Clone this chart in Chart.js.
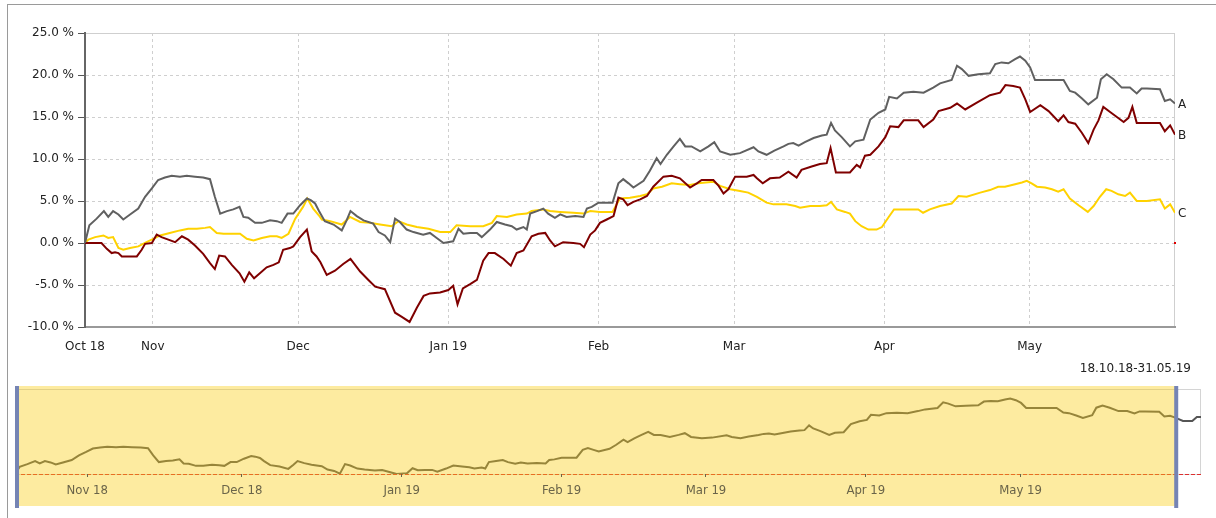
<!DOCTYPE html>
<html>
<head>
<meta charset="utf-8">
<title>Performance</title>
<script src="https://cdn.jsdelivr.net/npm/chart.js@4/dist/chart.umd.min.js"></script>
<style>
  html, body { margin: 0; padding: 0; background: #fff; overflow: hidden; }
  body { width: 1216px; height: 518px; position: relative; font-family: "DejaVu Sans", sans-serif; }
  #frame { position: absolute; left: 7px; top: 4px; width: 1300px; height: 600px;
           border-top: 1px solid #9a9a9a; border-left: 1px solid #9a9a9a; }
  #chart { position: absolute; left: 0; top: 0; }
  #nav { position: absolute; left: 0; top: 380px; }
  #range { position: absolute; right: 25px; top: 360px; font-size: 12px; line-height: 16px; color: #222; }
</style>
</head>
<body>
<div id="frame"></div>
<canvas id="chart" width="1216" height="380"></canvas>
<div id="range">18.10.18-31.05.19</div>
<canvas id="nav" width="1216" height="138"></canvas>
<script>
// days counted from 18.10.2018
const monthDays = [0, 14, 44, 75, 106, 134, 165, 195];
const monthLabels = ['Oct 18', 'Nov', 'Dec', 'Jan 19', 'Feb', 'Mar', 'Apr', 'May'];
const navMonthDays = [14, 44, 75, 106, 134, 165, 195];
const navMonthLabels = ['Nov 18', 'Dec 18', 'Jan 19', 'Feb 19', 'Mar 19', 'Apr 19', 'May 19'];

// series A (grey)
const aDays = [0, 0.9, 2.4, 3.9, 4.8, 5.8, 6.9, 7.9, 9.3, 11.0, 12.4, 13.8, 15.1, 16.5, 17.9, 19.6, 21.0, 22.7, 24.4, 25.8,
  26.8, 27.9, 29.3, 30.6, 31.9, 32.7, 33.7, 35.1, 36.5, 38.2, 39.6, 40.6, 41.8, 43.0, 44.4, 45.8, 46.6, 47.5, 48.3, 49.5,
  51.3, 53.0, 54.0, 54.8, 56.1, 57.5, 59.5, 60.6, 61.9, 63.0, 64.0, 65.0, 66.4, 67.8, 69.8, 71.2, 72.6, 74.0, 76.0, 77.1,
  78.1, 79.5, 80.9, 81.9, 83.6, 85.0, 86.7, 88.1, 89.1, 90.5, 91.2, 91.9, 93.3, 94.6, 95.6, 97.0, 98.1, 99.4, 101.2, 102.9,
  103.6, 104.6, 106.0, 108.9, 110.1, 111.1, 112.2, 113.2, 115.3, 116.6, 118.0, 118.8, 120.1, 121.5, 122.8, 123.9, 125.2, 127.0, 128.7, 129.9,
  131.1, 133.2, 135.2, 138.0, 139.0, 140.7, 142.3, 144.2, 145.2, 146.2, 147.3, 148.6, 150.4, 152.1, 153.1, 154.0, 154.8, 156.2, 157.9, 159.0,
  160.7, 162.1, 163.8, 165.2, 166.0, 167.6, 169.0, 171.0, 173.1, 175.1, 176.5, 178.9, 180.0, 181.0, 182.4, 184.4, 186.8, 187.9, 189.2, 190.6,
  192.0, 193.0, 194.1, 195.1, 196.1, 202.0, 203.3, 204.4, 205.8, 207.1, 208.9, 209.7, 210.9, 212.3, 214.0, 215.7, 217.1, 218.1, 219.2, 221.9,
  222.9, 224.0, 225.0];
const aVals = [0, 2.1, 2.9, 3.8, 3.1, 3.8, 3.4, 2.8, 3.4, 4.1, 5.5, 6.5, 7.5, 7.8, 8.0, 7.9, 8.0, 7.9, 7.8, 7.6,
  5.5, 3.5, 3.8, 4.0, 4.3, 3.1, 3.0, 2.4, 2.4, 2.7, 2.6, 2.4, 3.5, 3.5, 4.5, 5.3, 5.1, 4.7, 3.8, 2.6,
  2.2, 1.5, 2.7, 3.8, 3.2, 2.7, 2.3, 1.3, 0.9, 0.1, 2.9, 2.5, 1.6, 1.3, 1.0, 1.2, 0.6, 0.0, 0.2, 1.7,
  1.1, 1.2, 1.2, 0.7, 1.6, 2.5, 2.2, 2.0, 1.6, 1.9, 1.6, 3.5, 3.8, 4.1, 3.5, 3.0, 3.4, 3.1, 3.2, 3.1,
  4.1, 4.3, 4.8, 4.8, 7.1, 7.6, 7.1, 6.6, 7.4, 8.6, 10.1, 9.4, 10.5, 11.5, 12.4, 11.5, 11.5, 10.9, 11.5, 12.0,
  10.9, 10.5, 10.7, 11.4, 10.9, 10.5, 11.0, 11.5, 11.8, 11.9, 11.6, 12.0, 12.5, 12.8, 12.9, 14.3, 13.4, 12.6, 11.5, 12.1,
  12.3, 14.7, 15.5, 15.9, 17.4, 17.2, 17.9, 18.0, 17.9, 18.5, 19.0, 19.4, 21.1, 20.7, 19.9, 20.1, 20.2, 21.3, 21.5, 21.4,
  21.9, 22.2, 21.7, 20.9, 19.4, 19.4, 18.1, 17.9, 17.2, 16.5, 17.3, 19.5, 20.1, 19.5, 18.5, 18.5, 17.8, 18.4, 18.4, 18.3,
  16.9, 17.1, 16.6];

// series B (dark red)
const bDays = [0, 1.7, 3.4, 4.5, 5.5, 6.2, 6.9, 7.6, 9.0, 10.7, 11.7, 12.4, 13.8, 14.8, 15.8, 17.2, 18.6, 20.0, 21.3, 22.7,
  24.4, 25.8, 26.8, 27.7, 28.9, 30.3, 31.9, 32.9, 33.9, 34.9, 36.1, 37.5, 38.9, 40.0, 40.9, 42.3, 43.0, 44.4, 45.8, 46.8,
  47.8, 48.6, 49.9, 51.6, 53.3, 54.8, 56.8, 58.5, 59.9, 61.9, 64.0, 65.4, 67.0, 68.5, 69.9, 71.2, 73.3, 75.0, 76.0, 76.9,
  78.0, 79.5, 80.9, 82.2, 83.3, 84.6, 86.4, 87.9, 89.1, 90.5, 92.2, 93.6, 95.0, 96.0, 97.0, 98.7, 100.8, 102.2, 103.0, 104.3,
  105.3, 106.3, 107.7, 109.1, 110.1, 111.1, 112.0, 113.2, 114.6, 116.0, 117.3, 119.4, 121.1, 122.8, 124.9, 126.3, 127.3, 129.7, 130.8, 131.8,
  132.8, 134.2, 136.6, 138.0, 138.7, 139.9, 141.4, 143.4, 145.2, 146.9, 147.9, 150.0, 151.7, 153.1, 153.9, 155.0, 157.9, 159.3, 160.0, 161.0,
  162.1, 163.8, 165.2, 166.2, 167.9, 169.0, 172.0, 173.1, 175.1, 176.2, 178.6, 180.0, 181.7, 184.1, 186.8, 188.9, 190.0, 191.6, 193.0, 194.1,
  195.1, 197.2, 198.9, 200.9, 202.0, 203.0, 204.4, 205.8, 207.1, 208.2, 209.2, 210.2, 211.6, 213.0, 214.4, 215.4, 216.2, 217.1, 221.9, 222.9,
  224.0, 225.0];
const bVals = [0, 0, 0, -0.7, -1.2, -1.1, -1.2, -1.6, -1.6, -1.6, -0.8, -0.1, 0, 1.0, 0.7, 0.4, 0.1, 0.8, 0.4, -0.3,
  -1.3, -2.4, -3.1, -1.5, -1.6, -2.6, -3.6, -4.6, -3.5, -4.2, -3.6, -2.9, -2.6, -2.3, -0.8, -0.6, -0.4, 0.7, 1.6, -1.0,
  -1.6, -2.3, -3.8, -3.3, -2.5, -1.9, -3.4, -4.4, -5.2, -5.5, -8.3, -8.8, -9.4, -7.7, -6.3, -6.0, -5.9, -5.6, -5.1, -7.3,
  -5.4, -4.9, -4.4, -2.1, -1.2, -1.2, -1.9, -2.7, -1.2, -0.9, 0.8, 1.1, 1.2, 0.3, -0.4, 0.1, 0.0, -0.1, -0.5, 1.0,
  1.5, 2.4, 2.8, 3.2, 5.4, 5.2, 4.5, 4.9, 5.2, 5.6, 6.7, 7.9, 8.0, 7.7, 6.6, 7.1, 7.5, 7.5, 6.8, 5.9,
  6.4, 7.9, 7.9, 8.1, 7.7, 7.1, 7.7, 7.8, 8.5, 7.8, 8.7, 9.1, 9.4, 9.5, 11.3, 8.4, 8.4, 9.3, 9.0, 10.4,
  10.5, 11.5, 12.6, 13.9, 13.8, 14.6, 14.6, 13.8, 14.7, 15.7, 16.1, 16.6, 15.9, 16.7, 17.6, 17.9, 18.8, 18.7, 18.5, 17.1,
  15.6, 16.4, 15.7, 14.5, 15.2, 14.4, 14.2, 13.1, 11.9, 13.5, 14.6, 16.2, 15.6, 15.0, 14.4, 14.9, 16.2, 14.3, 14.3, 13.3,
  14.0, 12.9];

// series C (yellow)
const cDays = [0, 0.7, 2.1, 3.8, 4.8, 5.8, 6.9, 7.9, 9.3, 11.0, 12.7, 14.1, 15.5, 17.5, 19.6, 21.3, 23.1, 24.8, 25.8, 27.2,
  28.6, 32.0, 33.4, 34.8, 36.5, 38.2, 39.6, 40.6, 42.0, 43.4, 45.0, 45.9, 47.1, 48.4, 48.9, 50.6, 53.0, 54.7, 56.8, 58.8,
  60.9, 63.3, 64.7, 66.4, 68.5, 70.9, 73.3, 75.4, 76.7, 79.5, 82.2, 84.0, 85.0, 87.1, 89.1, 91.2, 92.2, 94.6, 96.0, 98.1,
  100.8, 102.9, 104.3, 106.3, 108.9, 110.4, 112.5, 114.6, 116.0, 117.3, 119.1, 121.1, 122.8, 124.9, 126.6, 129.7, 131.1, 133.2, 135.2, 136.9,
  138.7, 140.7, 142.1, 144.8, 146.6, 147.6, 149.7, 151.7, 153.1, 154.0, 155.2, 156.9, 157.9, 159.0, 160.3, 161.7, 163.4, 164.5, 165.9, 167.0,
  172.0, 173.0, 174.4, 176.5, 178.9, 180.3, 182.0, 184.8, 186.8, 188.5, 189.9, 192.0, 193.4, 194.4, 195.4, 196.5, 198.2, 199.6, 200.9, 202.0,
  203.3, 205.1, 207.0, 208.2, 209.5, 210.8, 211.9, 213.3, 214.7, 215.7, 217.1, 219.2, 221.9, 222.9, 224.0, 225.0];
const cVals = [0, 0.4, 0.7, 0.9, 0.6, 0.7, -0.6, -0.8, -0.6, -0.4, 0.1, 0.5, 0.9, 1.2, 1.5, 1.7, 1.7, 1.8, 1.9, 1.2,
  1.1, 1.1, 0.5, 0.3, 0.6, 0.8, 0.8, 0.6, 1.1, 2.9, 4.3, 5.3, 4.1, 3.2, 2.8, 2.6, 2.2, 3.1, 2.5, 2.4,
  2.2, 2.0, 2.6, 2.2, 1.9, 1.7, 1.3, 1.3, 2.1, 2.0, 2.0, 2.4, 3.2, 3.1, 3.4, 3.5, 3.8, 4.0, 3.8, 3.7,
  3.6, 3.5, 3.8, 3.7, 3.7, 5.3, 5.4, 5.6, 5.8, 6.5, 6.7, 7.1, 7.0, 6.9, 7.1, 7.3, 6.8, 6.4, 6.2, 6.0,
  5.5, 4.8, 4.6, 4.6, 4.4, 4.2, 4.4, 4.4, 4.5, 4.9, 4.0, 3.7, 3.5, 2.6, 2.0, 1.6, 1.6, 1.9, 3.1, 4.0,
  4.0, 3.6, 4.0, 4.4, 4.7, 5.6, 5.5, 6.0, 6.3, 6.7, 6.7, 7.0, 7.2, 7.4, 7.1, 6.7, 6.6, 6.4, 6.1, 6.4,
  5.3, 4.5, 3.7, 4.4, 5.5, 6.4, 6.2, 5.8, 5.6, 6.0, 5.0, 5.0, 5.2, 4.1, 4.6, 3.6];

// navigator continues series A a few days past the selected range
const navTailDays = [226.5, 228.3, 229.2, 230];
const navTailVals = [15.6, 15.6, 16.8, 16.8];
const selStart = 0;
const selEnd = 225;

function toPoints(days, vals) {
  return days.map((d, i) => ({x: d, y: vals[i]}));
}

const font = {family: '"DejaVu Sans", sans-serif', size: 12};

const frameBox = {
  id: 'frameBox',
  beforeDraw(chart) {
    const {ctx, chartArea: a} = chart;
    ctx.save();
    ctx.strokeStyle = '#cfcfcf';
    ctx.lineWidth = 1;
    ctx.strokeRect(a.left + 0.5, a.top + 0.5, a.right - a.left - 1, a.bottom - a.top - 1);
    ctx.restore();
  }
};

const endLabels = {
  id: 'endLabels',
  afterDatasetsDraw(chart) {
    const {ctx, chartArea: a} = chart;
    ctx.save();
    ctx.font = '12px "DejaVu Sans", sans-serif';
    ctx.fillStyle = '#222';
    ctx.textBaseline = 'middle';
    chart.data.datasets.forEach((ds, i) => {
      const pts = chart.getDatasetMeta(i).data;
      const last = pts[pts.length - 1];
      ctx.fillText(ds.label, a.right + 3, last.y + 1);
    });
    ctx.fillStyle = '#e00000';
    ctx.fillRect(a.right - 1, chart.scales.y.getPixelForValue(0) - 1, 2, 2);
    ctx.restore();
  }
};

new Chart(document.getElementById('chart'), {
  type: 'line',
  data: {
    datasets: [
      {label: 'A', data: toPoints(aDays, aVals), borderColor: '#606060'},
      {label: 'B', data: toPoints(bDays, bVals), borderColor: '#7f0000'},
      {label: 'C', data: toPoints(cDays, cVals), borderColor: '#ffd200'}
    ]
  },
  options: {
    responsive: false,
    animation: false,
    layout: {padding: {top: 33, right: 41, left: 0, bottom: 0}},
    plugins: {legend: {display: false}, tooltip: {enabled: false}},
    elements: {point: {radius: 0}, line: {borderWidth: 2, tension: 0}},
    scales: {
      x: {
        type: 'linear', min: 0, max: 225,
        afterBuildTicks: s => { s.ticks = monthDays.map(v => ({value: v})); },
        afterFit: s => { s.height = 53; },
        ticks: {
          autoSkip: false, maxRotation: 0, padding: 13, color: '#222', font: font,
          callback: v => monthLabels[monthDays.indexOf(v)]
        },
        grid: {color: '#cfcfcf', drawTicks: false},
        border: {color: '#999', width: 2, dash: [3, 3]}
      },
      y: {
        min: -10, max: 25,
        afterFit: s => { s.width = 85; },
        ticks: {stepSize: 5, padding: 4, color: '#222', font: font, callback: v => v.toFixed(1) + ' %'},
        grid: {color: '#cfcfcf', tickLength: 7, tickColor: '#555', tickBorderDash: []},
        border: {color: '#666', width: 2, dash: [3, 3]}
      }
    }
  },
  plugins: [frameBox, endLabels]
});

// navigator: zero line under the selection, yellow selection drawn over the line
const navOverlay = {
  id: 'navOverlay',
  beforeDatasetsDraw(chart) {
    const {ctx, chartArea: a, scales: {y}} = chart;
    ctx.save();
    ctx.strokeStyle = '#d4d4d4';
    ctx.lineWidth = 1;
    ctx.strokeRect(a.left + 0.5, a.top + 0.5, a.right - a.left - 1, a.bottom - a.top);
    const y0 = Math.round(y.getPixelForValue(0)) + 0.5;
    ctx.strokeStyle = '#dd3030';
    ctx.setLineDash([4, 2]);
    ctx.beginPath();
    ctx.moveTo(a.left, y0);
    ctx.lineTo(a.right, y0);
    ctx.stroke();
    ctx.restore();
  },
  afterDatasetsDraw(chart) {
    const {ctx, chartArea: a, scales: {x}} = chart;
    const x0 = x.getPixelForValue(selStart);
    const x1 = x.getPixelForValue(selEnd);
    ctx.save();
    ctx.fillStyle = 'rgba(250, 205, 18, 0.4)';
    ctx.fillRect(x0, a.top - 3, x1 - x0, 120);
    ctx.fillStyle = '#7584b4';
    ctx.fillRect(x0, a.top - 3, 4, 122);
    ctx.fillRect(x1 - 1, a.top - 3, 4, 122);
    ctx.restore();
  }
};

new Chart(document.getElementById('nav'), {
  type: 'line',
  data: {
    datasets: [{
      data: toPoints(aDays.concat(navTailDays), aVals.concat(navTailVals)),
      borderColor: '#555', borderWidth: 2, pointRadius: 0, tension: 0
    }]
  },
  options: {
    responsive: false,
    animation: false,
    layout: {padding: {left: 15, right: 15, top: 9, bottom: 0}},
    plugins: {legend: {display: false}, tooltip: {enabled: false}},
    scales: {
      x: {
        type: 'linear', min: 0, max: 230,
        afterBuildTicks: s => { s.ticks = navMonthDays.map(v => ({value: v})); },
        afterFit: s => { s.height = 44; },
        ticks: {
          z: 1, autoSkip: false, maxRotation: 0, padding: 6, color: '#6a6449',
          font: {family: '"DejaVu Sans Condensed", "DejaVu Sans", sans-serif', size: 13},
          callback: v => navMonthLabels[navMonthDays.indexOf(v)]
        },
        grid: {z: 1, drawOnChartArea: false, tickLength: 3, tickColor: '#6a6449'},
        border: {display: false}
      },
      y: {display: false, min: 0, max: 25}
    }
  },
  plugins: [navOverlay]
});
</script>
</body>
</html>
